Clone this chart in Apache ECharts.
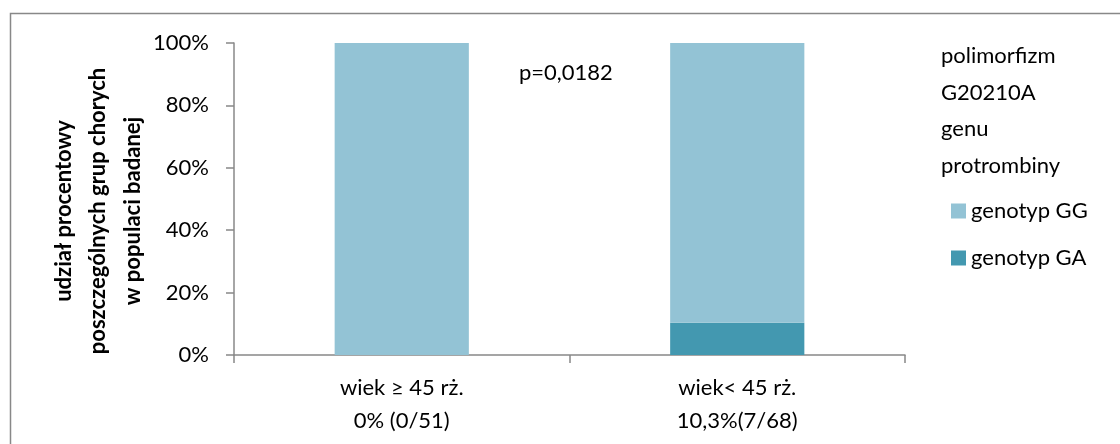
<!DOCTYPE html>
<html>
<head>
<meta charset="utf-8">
<script src="https://cdn.jsdelivr.net/npm/echarts@6/dist/echarts.min.js"></script>
<style>
  html, body { margin: 0; padding: 0; background: #fff; }
  #chart { width: 1120px; height: 444px; }
</style>
</head>
<body>
<div id="chart"></div>
<script>
// Age groups of patients
const categories = ['wiek ≥ 45 rż.\n0% (0/51)', 'wiek< 45 rż.\n10,3%(7/68)'];
// Genotype shares in percent
const genotypeGA = [0, 10.3];
const genotypeGG = [100, 89.7];
const yTicks = { min: 0, max: 100, interval: 20 };
const legendTitle = ['polimorfizm', 'G20210A', 'genu', 'protrombiny'];
const pValueText = 'p=0,0182';
const yAxisTitle = ['udział procentowy', 'poszczególnych grup chorych', 'w populaci badanej'];

const FONT = 'Lato, Carlito, "Open Sans", sans-serif';
const FS = 22;
const chart = echarts.init(document.getElementById('chart'), null, { renderer: 'canvas' });

chart.setOption({
  animation: false,
  backgroundColor: '#fff',
  textStyle: { fontFamily: FONT },
  grid: { left: 234, top: 43, right: 215, bottom: 89, containLabel: false, outerBoundsMode: 'none' },
  legend: {
    orient: 'vertical',
    left: 946,
    top: 195,
    itemWidth: 15,
    itemHeight: 15,
    itemGap: 25,
    icon: 'rect',
    data: ['genotyp GG', 'genotyp GA'],
    textStyle: { fontFamily: FONT, fontSize: FS, lineHeight: 22, color: '#000' }
  },
  xAxis: {
    type: 'category',
    data: categories,
    axisLine: { lineStyle: { color: '#888', width: 1.5 } },
    axisTick: { show: true, length: 8, inside: false, lineStyle: { color: '#888', width: 1.5 } },
    axisLabel: { fontFamily: FONT, fontSize: FS, color: '#000', lineHeight: 33, margin: 16 }
  },
  yAxis: {
    type: 'value',
    min: yTicks.min,
    max: yTicks.max,
    interval: yTicks.interval,
    axisLine: { show: true, lineStyle: { color: '#888', width: 1.5 } },
    axisTick: { show: true, length: 8, lineStyle: { color: '#888', width: 1.5 } },
    splitLine: { show: false },
    axisLabel: { fontFamily: FONT, fontSize: FS, color: '#000', margin: 25, formatter: '{value}%' }
  },
  series: [
    {
      name: 'genotyp GA',
      type: 'bar',
      stack: 'total',
      data: genotypeGA,
      barWidth: '40%',
      itemStyle: { color: '#4398B0' }
    },
    {
      name: 'genotyp GG',
      type: 'bar',
      stack: 'total',
      data: genotypeGG,
      barWidth: '40%',
      itemStyle: { color: '#93C3D5' }
    }
  ],
  graphic: [
    {
      type: 'rect',
      silent: true,
      shape: { x: 10.5, y: 13.5, width: 1200, height: 500 },
      style: { fill: 'none', stroke: '#888', lineWidth: 1.5 }
    },
    {
      type: 'text',
      x: 98,
      y: 211,
      rotation: Math.PI / 2,
      style: {
        text: yAxisTitle.join('\n'),
        font: 'bold ' + FS + 'px ' + FONT,
        lineHeight: 34.5,
        align: 'center',
        verticalAlign: 'middle',
        fill: '#000'
      }
    },
    {
      type: 'text',
      x: 519,
      y: 73,
      style: { text: pValueText, font: FS + 'px ' + FONT, verticalAlign: 'middle', fill: '#000' }
    },
    {
      type: 'text',
      x: 941,
      y: 38,
      style: { text: legendTitle.join('\n'), font: FS + 'px ' + FONT, lineHeight: 36.5, verticalAlign: 'top', fill: '#000' }
    }
  ]
});
</script>
</body>
</html>
